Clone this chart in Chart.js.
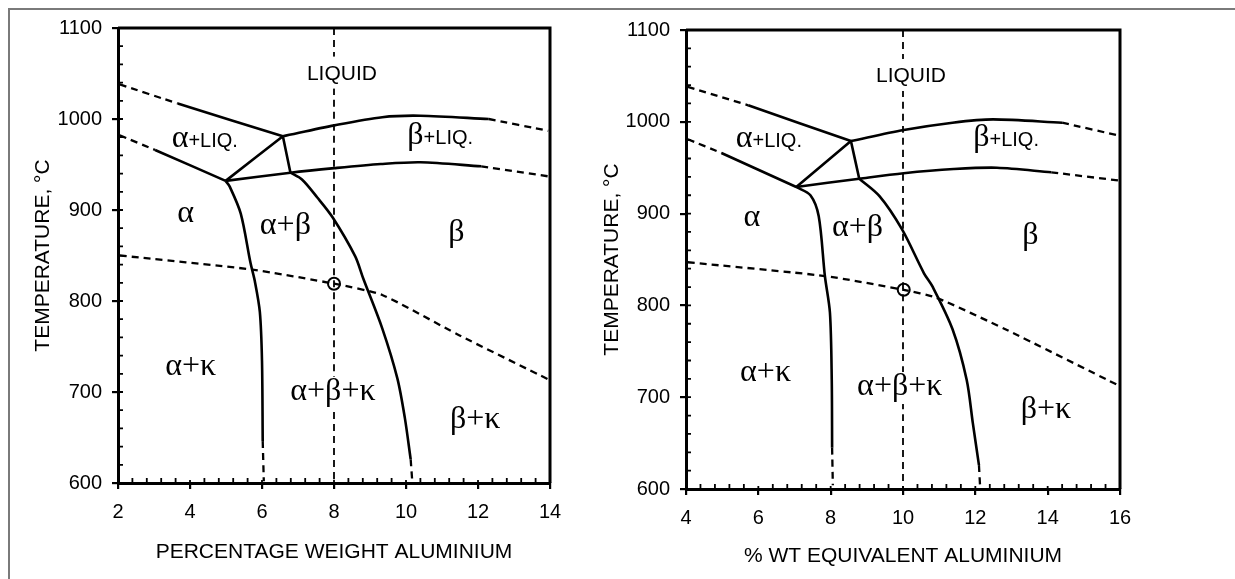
<!DOCTYPE html>
<html lang="en">
<head>
<meta charset="UTF-8">
<title>Aluminium bronze phase diagram</title>
<script src="https://cdn.jsdelivr.net/npm/chart.js"></script>
<style>
  html, body { margin: 0; padding: 0; background: #fff; }
  body { width: 1235px; height: 579px; position: relative; overflow: hidden; }
  #frame { position: absolute; left: 8px; top: 8px; width: 1300px; height: 700px;
           border-top: 2px solid #7a7a7a; border-left: 2px solid #7a7a7a; }
  canvas { position: absolute; top: 0; }
  #left { left: 0; }
  #right { left: 580px; }
</style>
</head>
<body>
<div id="frame"></div>
<canvas id="left" width="580" height="579"></canvas>
<canvas id="right" width="655" height="579"></canvas>
<script>
// ---- left chart: percentage weight aluminium ----
const leftXTitle = 'PERCENTAGE WEIGHT ALUMINIUM';
const leftXRange = [2, 14];
const leftAlphaLiqDash = [[2.05, 1038], [3.66, 1017]];
const leftAlphaLiq = [[3.66, 1017], [6.58, 981]];
const leftAlphaSolDash = [[2.05, 982], [3.03, 966]];
const leftAlphaSol = [[3.03, 966], [4.99, 932]];
const leftTriangle = [[4.99, 932], [6.58, 981]];
const leftPeritectic = [[6.58, 981], [6.79, 941]];
const leftBetaSol = [[4.99, 932], [6.79, 941], [8.01, 946], [9.3, 950.5], [10.4, 952.5], [12.09, 948]];
const leftBetaSolDash = [[12.09, 948], [13.95, 937]];
const leftBetaLiq = [[6.58, 981], [8.01, 993], [9.34, 1002], [10.4, 1003.6], [12.3, 1000]];
const leftBetaLiqDash = [[12.3, 1000], [13.95, 987]];
const leftAlphaSolvus = [[4.99, 932], [5.1, 926], [5.41, 896], [5.68, 842], [5.8, 822], [5.94, 788], [6.0, 734], [6.02, 646]];
const leftAlphaSolvusDash = [[6.02, 646], [6.05, 602]];
const leftBetaSolvus = [[6.79, 941], [7.11, 933.5], [7.53, 914], [7.96, 892], [8.59, 849], [8.81, 825], [9.34, 770], [9.76, 715], [9.97, 671], [10.13, 626]];
const leftBetaSolvusDash = [[10.13, 626], [10.17, 604]];
const leftEutectoid = [[2.05, 850], [5.73, 834.5], [8.0, 819], [9.34, 806.6], [11.46, 762.7], [14, 713]];
const leftAlloy = [[8, 1100], [8, 600]];
const leftPoint = [[8, 819]];
const leftLabels = [
  ['LIQUID', 8.22, 1051], ['α+LIQ.', 4.41, 977], ['β+LIQ.', 10.95, 980],
  ['α', 3.88, 895], ['α+β', 6.65, 881], ['β', 11.4, 874],
  ['α+κ', 4.02, 726], ['α+β+κ', 7.97, 699], ['β+κ', 11.92, 668]
];

// ---- right chart: % wt equivalent aluminium ----
const rightXTitle = '% WT EQUIVALENT ALUMINIUM';
const rightXRange = [4, 16];
const rightAlphaLiqDash = [[4.05, 1038], [5.72, 1018]];
const rightAlphaLiq = [[5.72, 1018], [8.56, 979]];
const rightAlphaSolDash = [[4.05, 981], [4.98, 966]];
const rightAlphaSol = [[4.98, 966], [7.05, 929]];
const rightTriangle = [[7.05, 929], [8.56, 979]];
const rightPeritectic = [[8.56, 979], [8.79, 938]];
const rightBetaSol = [[7.05, 929], [8.79, 938], [10.02, 944], [11.4, 948.5], [12.6, 950], [14.1, 945]];
const rightBetaSolDash = [[14.1, 945], [15.97, 936]];
const rightBetaLiq = [[8.56, 979], [10.02, 991], [11.37, 999], [12.49, 1002.6], [14.4, 999]];
const rightBetaLiqDash = [[14.4, 999], [15.97, 985]];
const rightAlphaSolvus = [[7.05, 929], [7.44, 920], [7.67, 897], [7.84, 832], [7.98, 792], [8.03, 719], [8.04, 645]];
const rightAlphaSolvusDash = [[8.04, 645], [8.06, 604]];
const rightBetaSolvus = [[8.79, 938], [9.35, 919], [9.97, 883], [10.58, 835], [10.81, 821], [11.37, 774], [11.76, 719], [11.93, 672], [12.1, 626]];
const rightBetaSolvusDash = [[12.1, 626], [12.13, 604]];
const rightEutectoid = [[4.05, 847], [7.84, 832], [10.02, 817], [10.92, 808.4], [12.83, 774], [16, 712]];
const rightAlloy = [[10, 1100], [10, 600]];
const rightPoint = [[10.02, 817]];
const rightLabels = [
  ['LIQUID', 10.22, 1051], ['α+LIQ.', 6.29, 980], ['β+LIQ.', 12.85, 981],
  ['α', 5.82, 894], ['α+β', 8.74, 883], ['β', 13.52, 874],
  ['α+κ', 6.2, 725], ['α+β+κ', 9.91, 710], ['β+κ', 13.95, 685]
];

const yTitle = 'TEMPERATURE, °C';
const yRange = [600, 1100];

const SANS = '"Liberation Sans", Arial, sans-serif';
const SERIF = '"Liberation Serif", "Times New Roman", serif';

function pts(a) { return a.map(p => ({ x: p[0], y: p[1] })); }
function solid(a) {
  return { data: pts(a), showLine: true, borderColor: '#000', borderWidth: 2.6, pointRadius: 0, tension: 0.3, fill: false };
}
function dashed(a, w) {
  return { data: pts(a), showLine: true, borderColor: '#000', borderWidth: w || 2.3, borderDash: [7, 5], pointRadius: 0, tension: 0.2, fill: false };
}

// outer frame (top/right) and minor ticks
const frameTicks = {
  id: 'frameTicks',
  afterDraw(chart) {
    const { ctx, chartArea: a, scales: { x, y } } = chart;
    ctx.save();
    ctx.strokeStyle = '#000';
    ctx.lineWidth = 3;
    ctx.beginPath();
    ctx.moveTo(a.left, a.top);
    ctx.lineTo(a.right, a.top);
    ctx.lineTo(a.right, a.bottom);
    ctx.stroke();
    ctx.lineWidth = 1.8;
    ctx.beginPath();
    const nx = Math.round((x.max - x.min) / 0.4);
    for (let i = 0; i <= nx; i++) {
      const px = x.getPixelForValue(x.min + i * 0.4);
      ctx.moveTo(px, a.bottom);
      ctx.lineTo(px, a.bottom - (i % 5 === 0 ? 3 : 5));
    }
    for (let v = y.min; v <= y.max; v += 20) {
      const py = y.getPixelForValue(v);
      ctx.moveTo(a.left, py);
      ctx.lineTo(a.left + 5, py);
    }
    ctx.stroke();
    ctx.restore();
  }
};

// phase region labels: greek in serif, latin in sans
const regionLabels = {
  id: 'regionLabels',
  afterDatasetsDraw(chart, args, opts) {
    const { ctx, scales: { x, y } } = chart;
    const alloyPx = x.getPixelForValue(opts.alloyX);
    ctx.save();
    opts.items.forEach(([text, vx, vy]) => {
      const runs = [];
      for (let i = 0; i < text.length; i++) {
        const c = text[i];
        const greek = /[αβκ]/.test(c) || (c === '+' && /[αβκ]/.test(text[i + 1] || ''));
        const font = greek ? '32px ' + SERIF : (text === 'LIQUID' ? '21px ' : '20px ') + SANS;
        if (runs.length && runs[runs.length - 1].font === font) runs[runs.length - 1].t += c;
        else runs.push({ t: c, font });
      }
      let total = 0;
      runs.forEach(r => { ctx.font = r.font; r.w = ctx.measureText(r.t).width; total += r.w; });
      const cx = x.getPixelForValue(vx);
      const cy = y.getPixelForValue(vy);
      // knock the dashed alloy line out behind labels that sit on it
      if (Math.abs(cx - alloyPx) < total / 2) {
        ctx.fillStyle = '#fff';
        ctx.fillRect(cx - total / 2 - 2, cy - 16, total + 4, 32);
      }
      ctx.fillStyle = '#000';
      ctx.textBaseline = 'alphabetic';
      ctx.textAlign = 'left';
      let sx = cx - total / 2;
      runs.forEach(r => { ctx.font = r.font; ctx.fillText(r.t, sx, cy + 7); sx += r.w; });
    });
    ctx.restore();
  }
};

function makeChart(id, d) {
  const axisFont = { family: SANS, size: 20 };
  const titleFont = { family: SANS, size: 21 };
  return new Chart(document.getElementById(id), {
    type: 'scatter',
    data: {
      datasets: [
        dashed(d.alloy, 1.8),
        dashed(d.eutectoid),
        solid(d.alphaLiq), dashed(d.alphaLiqDash),
        solid(d.alphaSol), dashed(d.alphaSolDash),
        solid(d.triangle), solid(d.peritectic),
        solid(d.betaSol), dashed(d.betaSolDash),
        solid(d.betaLiq), dashed(d.betaLiqDash),
        solid(d.alphaSolvus), dashed(d.alphaSolvusDash),
        solid(d.betaSolvus), dashed(d.betaSolvusDash),
        { data: pts(d.point), pointRadius: 6, pointBorderWidth: 2, pointBorderColor: '#000', pointBackgroundColor: '#fff', showLine: false }
      ]
    },
    options: {
      responsive: false,
      animation: false,
      layout: { padding: { top: d.padTop, right: d.padRight, bottom: 0, left: 0 } },
      plugins: {
        legend: { display: false },
        tooltip: { enabled: false },
        regionLabels: { items: d.labels, alloyX: d.alloy[0][0] }
      },
      scales: {
        x: {
          type: 'linear', min: d.xRange[0], max: d.xRange[1],
          afterFit: s => { s.height = d.xAxisH; },
          ticks: { stepSize: 2, font: axisFont, color: '#000', padding: 11, maxRotation: 0, autoSkip: false,
                   callback: v => String(v) },
          grid: { drawOnChartArea: false, drawTicks: true, tickLength: 6, color: '#000', lineWidth: 2.2 },
          border: { display: true, color: '#000', width: 3 },
          title: { display: true, text: d.xTitle, font: titleFont, color: '#000', padding: { top: 0, bottom: d.xTitlePad } }
        },
        y: {
          type: 'linear', min: yRange[0], max: yRange[1],
          afterFit: s => { s.width = d.yAxisW; },
          ticks: { stepSize: 100, font: axisFont, color: '#000', padding: 10, callback: v => String(v) },
          grid: { drawOnChartArea: false, drawTicks: true, tickLength: 6, color: '#000', lineWidth: 2.2 },
          border: { display: true, color: '#000', width: 3 },
          title: { display: true, text: yTitle, font: titleFont, color: '#000', padding: { top: d.yTitlePad, bottom: 0 } }
        }
      }
    },
    plugins: [regionLabels, frameTicks]
  });
}

makeChart('left', {
  xTitle: leftXTitle, xRange: leftXRange, labels: leftLabels,
  alphaLiq: leftAlphaLiq, alphaLiqDash: leftAlphaLiqDash, alphaSol: leftAlphaSol, alphaSolDash: leftAlphaSolDash,
  triangle: leftTriangle, peritectic: leftPeritectic, betaSol: leftBetaSol, betaSolDash: leftBetaSolDash,
  betaLiq: leftBetaLiq, betaLiqDash: leftBetaLiqDash, alphaSolvus: leftAlphaSolvus, alphaSolvusDash: leftAlphaSolvusDash,
  betaSolvus: leftBetaSolvus, betaSolvusDash: leftBetaSolvusDash, eutectoid: leftEutectoid, alloy: leftAlloy, point: leftPoint,
  padTop: 28, padRight: 30, xAxisH: 96, yAxisW: 118, xTitlePad: 14, yTitlePad: 31
});

makeChart('right', {
  xTitle: rightXTitle, xRange: rightXRange, labels: rightLabels,
  alphaLiq: rightAlphaLiq, alphaLiqDash: rightAlphaLiqDash, alphaSol: rightAlphaSol, alphaSolDash: rightAlphaSolDash,
  triangle: rightTriangle, peritectic: rightPeritectic, betaSol: rightBetaSol, betaSolDash: rightBetaSolDash,
  betaLiq: rightBetaLiq, betaLiqDash: rightBetaLiqDash, alphaSolvus: rightAlphaSolvus, alphaSolvusDash: rightAlphaSolvusDash,
  betaSolvus: rightBetaSolvus, betaSolvusDash: rightBetaSolvusDash, eutectoid: rightEutectoid, alloy: rightAlloy, point: rightPoint,
  padTop: 30, padRight: 115, xAxisH: 90, yAxisW: 106, xTitlePad: 10, yTitlePad: 20
});
</script>
</body>
</html>
